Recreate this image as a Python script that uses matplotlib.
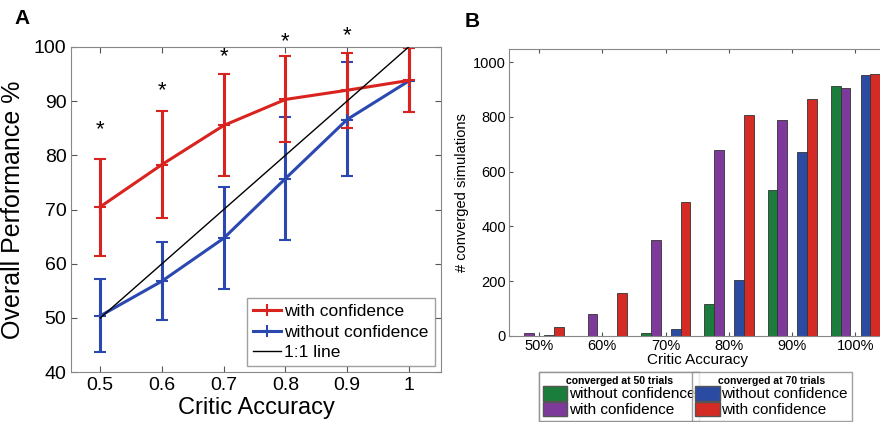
import numpy as np
import matplotlib.pyplot as plt
from matplotlib.patches import Patch
from matplotlib.lines import Line2D

plt.rcParams['font.family'] = ['Liberation Sans', 'DejaVu Sans']

# Panel A data
accuracy = [0.5, 0.6, 0.7, 0.8, 0.9, 1.0]
with_conf = [70.5, 78.3, 85.5, 90.3, 92.0, 93.8]
with_conf_lo = [61.5, 68.5, 76.2, 82.4, 85.1, 88.0]
with_conf_hi = [79.3, 88.2, 94.9, 98.3, 98.9, 99.7]
without_conf = [50.4, 56.8, 64.7, 75.7, 86.6, 93.7]
without_conf_lo = [43.8, 49.7, 55.3, 64.4, 76.2, 87.9]
without_conf_hi = [57.1, 64.0, 74.1, 87.0, 97.2, 99.8]
star_x = [0.5, 0.6, 0.7, 0.8, 0.9]
star_y = [82.8, 90.0, 96.2, 99.0, 100.2]

# Panel B data
categories = ['50%', '60%', '70%', '80%', '90%', '100%']
c50_without = [0, 0, 11, 115, 533, 912]
c50_with = [9, 79, 352, 678, 790, 906]
c70_without = [3, 0, 27, 206, 670, 954]
c70_with = [32, 158, 488, 805, 865, 955]

red = '#d8231f'
blue = '#2b48b0'
green = '#1b7d3c'
purple = '#7d3a9a'
bred = '#d42b25'
bblue = '#2b4aa2'

fig = plt.figure(figsize=(8.8, 4.22), dpi=100)

# ---- Panel A ----
ax = fig.add_axes([0.081, 0.118, 0.420, 0.771])
x = np.array(accuracy)
ax.plot([0.5, 1.0], [50, 100], color='black', lw=1.0, zorder=3)
ax.errorbar(x, without_conf,
            yerr=[np.subtract(without_conf, without_conf_lo), np.subtract(without_conf_hi, without_conf)],
            color=blue, lw=2.2, elinewidth=2.2, capsize=4, capthick=2,
            marker='+', ms=8, mew=1.5, zorder=2)
ax.errorbar(x, with_conf,
            yerr=[np.subtract(with_conf, with_conf_lo), np.subtract(with_conf_hi, with_conf)],
            color=red, lw=2.2, elinewidth=2.2, capsize=4, capthick=2,
            marker='+', ms=8, mew=1.5, zorder=2)
for sx, sy in zip(star_x, star_y):
    ax.text(sx, sy, '*', ha='center', va='bottom', fontsize=16, clip_on=False)

ax.set_xlim(0.453, 1.052)
ax.set_ylim(40, 100)
ax.set_xticks(accuracy)
ax.set_xticklabels(['0.5', '0.6', '0.7', '0.8', '0.9', '1'])
ax.set_yticks(range(40, 101, 10))
ax.tick_params(direction='in', top=True, right=True, labelsize=14, length=4, color='#555555')
for s in ax.spines.values():
    s.set_color('#888888')
ax.set_xlabel('Critic Accuracy', fontsize=17, labelpad=2)
ax.set_ylabel('Overall Performance %', fontsize=18, labelpad=6)
handles = [Line2D([], [], color=red, lw=2.2, marker='+', ms=8, mew=1.5),
           Line2D([], [], color=blue, lw=2.2, marker='+', ms=8, mew=1.5),
           Line2D([], [], color='black', lw=1.0)]
ax.legend(handles, ['with confidence', 'without confidence', '1:1 line'], loc='lower right',
          fontsize=12.5, fancybox=False, edgecolor='#888888', handlelength=1.6,
          handletextpad=0.2, borderpad=0.35, labelspacing=0.3, borderaxespad=0.35)
fig.text(0.017, 0.955, 'A', fontsize=15, fontweight='bold', va='center')

# ---- Panel B ----
bx = fig.add_axes([0.578, 0.204, 0.43, 0.680])
pos = np.arange(len(categories))
w = 0.155
bx.bar(pos - 0.31, c50_without, w, color=green, edgecolor='#333333', lw=0.6)
bx.bar(pos - 0.155, c50_with, w, color=purple, edgecolor='#333333', lw=0.6)
bx.bar(pos + 0.16, c70_without, w, color=bblue, edgecolor='#333333', lw=0.6)
bx.bar(pos + 0.315, c70_with, w, color=bred, edgecolor='#333333', lw=0.6)
bx.set_xlim(-0.48, 5.5)
bx.set_ylim(0, 1048)
bx.set_xticks(pos)
bx.set_xticklabels(categories)
bx.set_yticks(range(0, 1001, 200))
bx.tick_params(direction='in', top=True, right=True, labelsize=10.5, length=3,
               color='#555555', pad=2)
for s in bx.spines.values():
    s.set_color('#888888')
bx.set_xlabel('Critic Accuracy', fontsize=11, labelpad=0)
bx.set_ylabel('# converged simulations', fontsize=10.5, labelpad=3)
fig.text(0.528, 0.948, 'B', fontsize=15, fontweight='bold', va='center')

leg_kw = dict(title_fontproperties={'size': 7.5, 'weight': 'bold'}, loc='upper left',
              fontsize=11, fancybox=False, edgecolor='#888888', handlelength=1.6,
              handleheight=1.1, handletextpad=0.1, borderpad=0.25, labelspacing=0.02,
              borderaxespad=0)
leg1 = fig.legend([Patch(facecolor=green, edgecolor='#555555'), Patch(facecolor=purple, edgecolor='#555555')],
                  ['without confidence', 'with confidence'],
                  title='converged at 50 trials', bbox_to_anchor=(0.6125, 0.119), **leg_kw)
leg2 = fig.legend([Patch(facecolor=bblue, edgecolor='#555555'), Patch(facecolor=bred, edgecolor='#555555')],
                  ['without confidence', 'with confidence'],
                  title='converged at 70 trials', bbox_to_anchor=(0.786, 0.119), **leg_kw)
fig.add_artist(leg1)

fig.savefig('out.png', dpi=100)
